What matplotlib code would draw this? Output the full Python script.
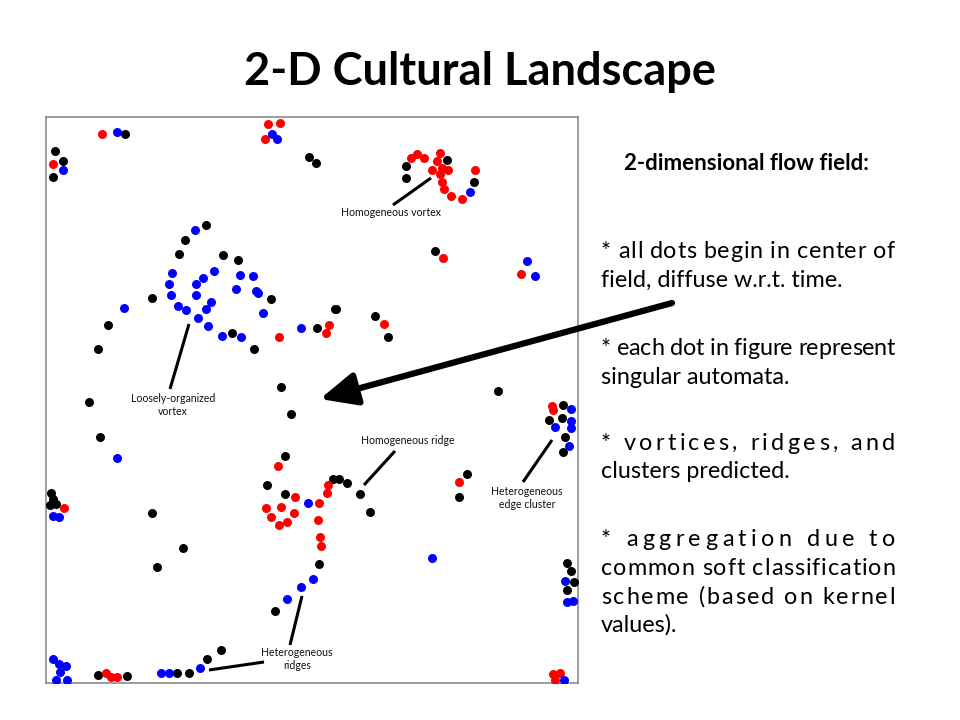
import matplotlib
matplotlib.use("Agg")
import matplotlib.pyplot as plt

FONT = ["Lato", "DejaVu Sans"]
plt.rcParams["font.family"] = FONT

W, H = 960, 720

# field coordinates of the automata (y grows downward)
red_x = [102, 268, 280, 265, 53, 411, 417, 424, 440, 437, 432, 442, 448, 440, 475, 442, 444, 451, 462,
         443, 521, 279, 329, 326, 384, 278, 295, 319, 328, 327, 266, 281, 271, 279, 287, 294, 318, 320, 321,
         552, 553, 459, 64, 106, 111, 117, 553, 560, 555]
red_y = [134, 124, 123, 139, 164, 158, 154, 158, 153, 161, 170, 168, 170, 174, 170, 182, 189, 196, 199,
         258, 274, 337, 325, 333, 324, 466, 497, 503, 485, 493, 508, 507, 517, 525, 522, 513, 520, 537, 546,
         406, 410, 482, 508, 673, 677, 677, 674, 673, 680]

blue_x = [117, 272, 277, 63, 470, 527, 535, 195, 172, 169, 171, 178, 186, 214, 203, 196, 196, 211, 206,
          198, 208, 240, 253, 236, 256, 258, 263, 222, 241, 301, 124, 117, 571, 555, 571, 571, 569, 308,
          313, 301, 287, 432, 565, 567, 573, 53, 59, 200, 169, 161, 53, 59, 66, 60, 56, 67, 564]
blue_y = [132, 134, 139, 170, 192, 261, 276, 230, 273, 284, 295, 306, 310, 271, 278, 284, 295, 302, 309,
          318, 326, 275, 276, 289, 291, 293, 313, 336, 337, 328, 308, 458, 409, 427, 421, 428, 446, 503,
          579, 587, 599, 558, 581, 602, 601, 516, 517, 668, 673, 673, 659, 664, 666, 672, 680, 680, 680]

black_x = [125, 55, 63, 53, 309, 316, 447, 406, 406, 474, 435, 335, 206, 185, 179, 223, 238, 271, 152,
           232, 254, 317, 336, 375, 388, 108, 98, 89, 100, 281, 291, 285, 267, 285, 333, 339, 347, 360,
           370, 498, 563, 549, 562, 565, 563, 467, 459, 319, 275, 152, 183, 157, 51, 53, 50, 56, 221, 207,
           189, 177, 98, 127, 567, 571, 574, 567]
black_y = [134, 151, 161, 177, 157, 163, 160, 166, 178, 182, 251, 309, 225, 240, 254, 255, 260, 299, 298,
           333, 349, 328, 309, 316, 337, 325, 349, 402, 437, 387, 414, 456, 485, 494, 479, 479, 483, 494,
           512, 391, 405, 420, 418, 437, 452, 474, 497, 564, 611, 513, 548, 567, 493, 499, 505, 504, 650,
           659, 673, 673, 675, 676, 563, 571, 582, 590]

# annotations: (label, text centre, leader lines)
notes = [
    ("Homogeneous vortex", (391, 213), [((393, 205), (431, 178))]),
    ("Loosely-organized\nvortex", (173, 405), [((170, 389), (189, 324))]),
    ("Homogeneous ridge", (408, 441), [((364, 485), (395, 451))]),
    ("Heterogeneous\nedge cluster", (527, 498), [((523, 482), (552, 440))]),
    ("Heterogeneous\nridges", (297, 659), [((209, 670), (264, 662)), ((290, 645), (302, 596))]),
]

bullets = [
    ("* all dots begin in center of", 258, True),
    ("field, diffuse w.r.t. time.", 287, False),
    ("* each dot in figure represent", 355, True),
    ("singular automata.", 384, False),
    ("* vortices, ridges, and", 450, True),
    ("clusters predicted.", 478, False),
    ("* aggregation due to", 546, True),
    ("common soft classification", 575, True),
    ("scheme (based on kernel", 604, True),
    ("values).", 632, False),
]


def fx(x):
    return x / W


def fy(y):
    return 1 - y / H


fig = plt.figure(figsize=(W / 100, H / 100), dpi=100)
fig.patch.set_facecolor("white")

ax = fig.add_axes([fx(46), fy(683), (578 - 46) / W, (683 - 117) / H])
ax.set_xlim(46, 578)
ax.set_ylim(683, 117)
ax.set_xticks([])
ax.set_yticks([])
for sp in ax.spines.values():
    sp.set_color("#8c8c8c")
    sp.set_linewidth(1.2)

ax.scatter(black_x, black_y, s=42, color="black", linewidths=0, zorder=3)
ax.scatter(red_x, red_y, s=42, color="#ff0000", linewidths=0, zorder=3)
ax.scatter(blue_x, blue_y, s=42, color="#0000ff", linewidths=0, zorder=3)

for label, (tx, ty), lines in notes:
    ax.text(tx, ty, label, fontsize=7.6, ha="center", va="center", linespacing=1.3,
            color="#111111", zorder=4)
    for (x0, y0), (x1, y1) in lines:
        ax.plot([x0, x1], [y0, y1], color="black", lw=2.2, solid_capstyle="butt", zorder=4)

# big arrow pointing at the field centre
ax.annotate("", xy=(320, 399), xytext=(672, 303), annotation_clip=False,
            arrowprops=dict(arrowstyle="-|>,head_width=0.5,head_length=1.1", lw=4.5,
                            color="black", shrinkA=0, shrinkB=0, mutation_scale=20))

fig.text(fx(480), fy(85), "2-D Cultural Landscape", fontsize=32.5, fontweight="bold",
         ha="center", va="baseline")
fig.text(fx(746), fy(170), "2-dimensional flow field:", fontsize=16, fontweight="bold",
         ha="center", va="baseline")

renderer = fig.canvas.get_renderer()


def char_width(c, size):
    t1 = fig.text(0, 0, "x" + c + "x", fontsize=size)
    t2 = fig.text(0, 0, "xx", fontsize=size)
    w = t1.get_window_extent(renderer).width - t2.get_window_extent(renderer).width
    t1.remove()
    t2.remove()
    return w


BODY = 16.8
LEFT, RIGHT = 601, 895
for line, base, justify in bullets:
    if not justify:
        fig.text(fx(LEFT), fy(base), line, fontsize=BODY, va="baseline")
        continue
    widths = [char_width(c, BODY) for c in line]
    gap = (RIGHT - LEFT - sum(widths)) / (len(line) - 1)
    x = LEFT
    for c, w in zip(line, widths):
        if c != " ":
            fig.text(fx(x), fy(base), c, fontsize=BODY, va="baseline")
        x += w + gap

fig.savefig("out.png", dpi=100)
